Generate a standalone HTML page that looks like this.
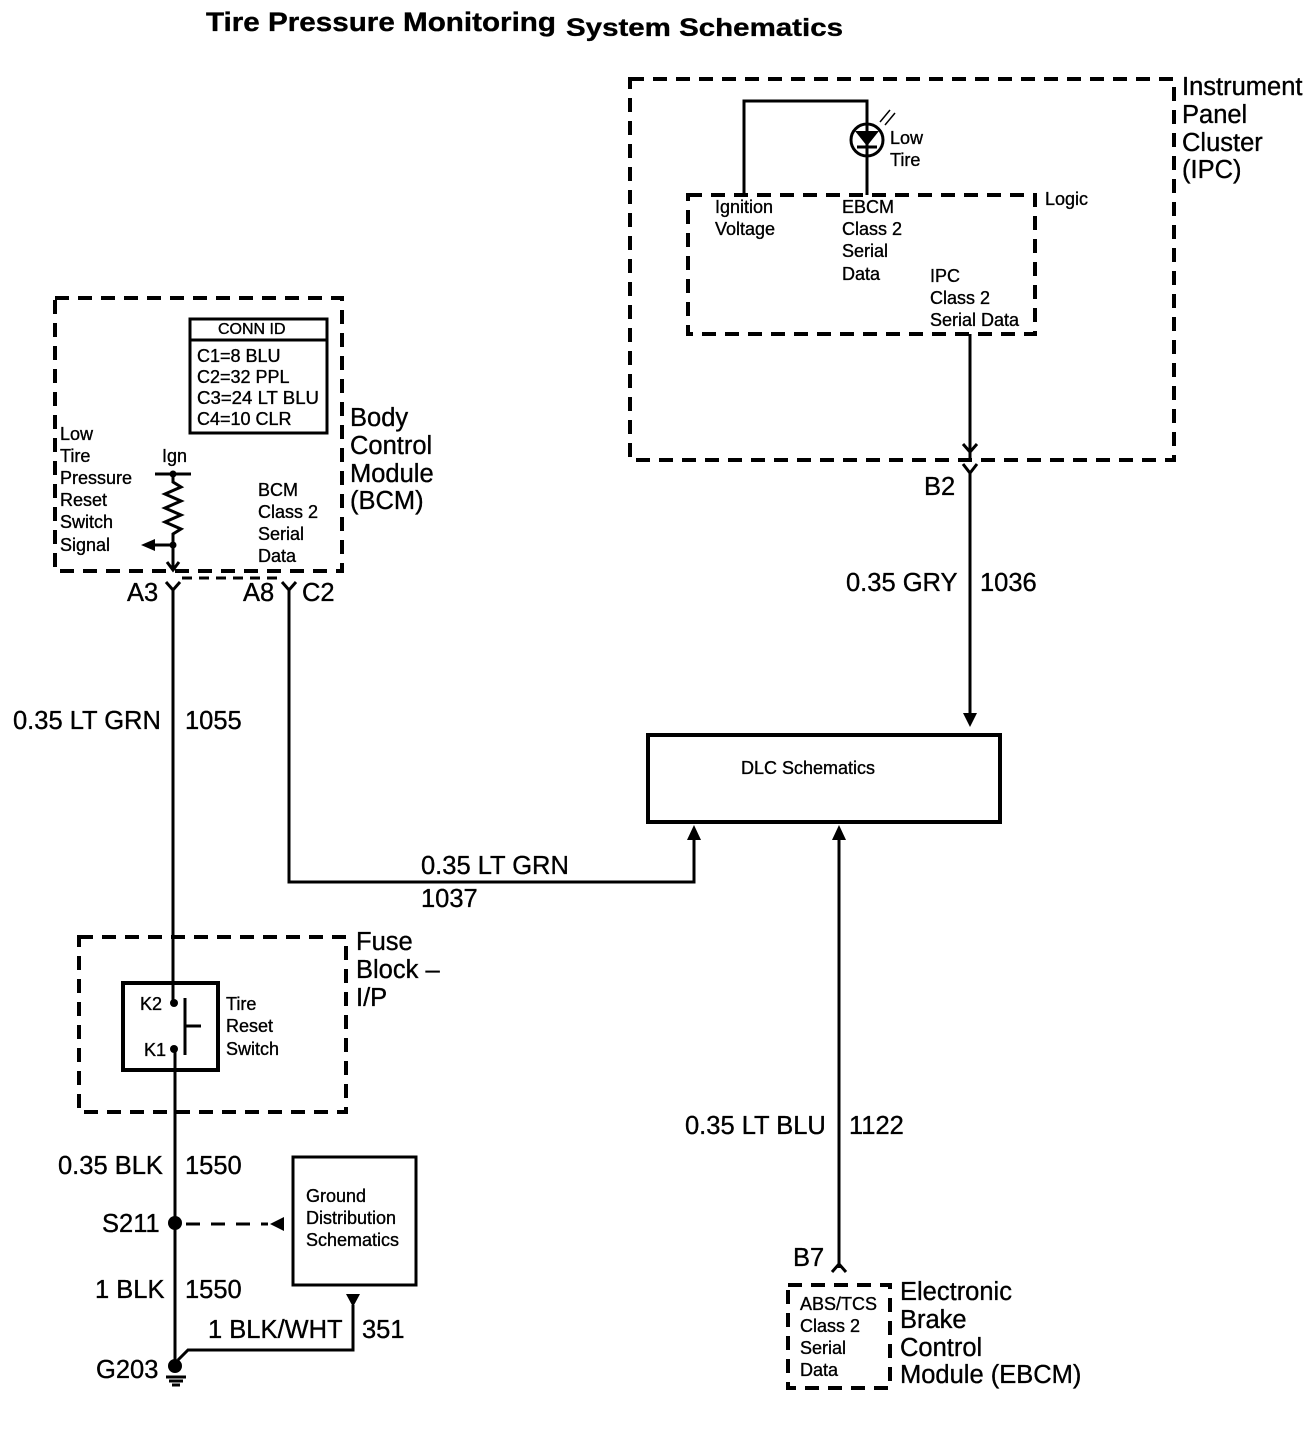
<!DOCTYPE html>
<html><head><meta charset="utf-8"><style>
html,body{margin:0;padding:0;background:#fff;}
svg{display:block;}
text{font-family:"Liberation Sans",sans-serif;fill:#000;stroke:#000;stroke-width:0.35;}
.s{font-size:18px;}
.b{font-size:25.5px;}
</style></head><body>
<svg width="1306" height="1440" viewBox="0 0 1306 1440" xmlns="http://www.w3.org/2000/svg">
<text x="206" y="31" font-size="27" font-weight="bold" textLength="350" lengthAdjust="spacingAndGlyphs">Tire Pressure Monitoring</text>
<text x="566" y="36" font-size="25" font-weight="bold" textLength="277" lengthAdjust="spacingAndGlyphs">System Schematics</text>

<g fill="none" stroke="#000" stroke-width="4" stroke-dasharray="14,9">
<rect x="630" y="79" width="544" height="381"/>
<rect x="688" y="195" width="347" height="139"/>
<rect x="55" y="298" width="287" height="273"/>
<rect x="79" y="937" width="267" height="175"/>
<rect x="788" y="1285" width="102" height="103"/>
<line x1="182" y1="578" x2="282" y2="578" stroke-width="3" stroke-dasharray="10,7"/>
<line x1="186" y1="1224" x2="268" y2="1224" stroke-width="3" stroke-dasharray="14,11"/>
</g>

<g fill="none" stroke="#000" stroke-width="3">
<polyline points="744,195 744,101 867,101 867,195"/>
<circle cx="867" cy="140" r="16"/>
<line x1="857" y1="147" x2="877" y2="147"/>
<line x1="970" y1="334" x2="970" y2="458"/>
<polyline points="963,444 970,452 977,444"/>
<polyline points="963,464 970,473 977,464"/>
<line x1="970" y1="472" x2="970" y2="715"/>
<rect x="648" y="735" width="352" height="87" stroke-width="4"/>
<polyline points="289,588 289,882 694,882 694,838"/>
<line x1="839" y1="838" x2="839" y2="1268"/>
<polyline points="832,1272 839,1264 846,1272"/>
<rect x="190" y="319" width="137" height="114"/>
<line x1="190" y1="340" x2="327" y2="340"/>
<line x1="155" y1="474" x2="191" y2="474"/>
<polyline points="173,474 173,482 181,487 165,494 181,501 165,508 181,515 165,522 181,529 173,534 173,569"/>
<line x1="173" y1="545" x2="155" y2="545"/>
<polyline points="167,562 173,570 179,562"/>
<polyline points="166,582 173,590 180,582"/>
<line x1="173" y1="590" x2="173" y2="1003"/>
<polyline points="282,582 289,590 296,582"/>
<rect x="123" y="983" width="95" height="87" stroke-width="4"/>
<line x1="185" y1="998" x2="185" y2="1055"/>
<line x1="185" y1="1026" x2="201" y2="1026"/>
<line x1="175" y1="1049" x2="175" y2="1365"/>
<rect x="293" y="1157" width="123" height="128"/>
<polyline points="353,1305 353,1350 188,1350 178,1360"/>
<line x1="166" y1="1377" x2="186" y2="1377"/>
<line x1="169" y1="1381" x2="183" y2="1381"/>
<line x1="172" y1="1385" x2="180" y2="1385"/>
</g>
<g fill="#000">
<polygon points="855,131 879,131 867,146"/>
<polygon points="963,713 977,713 970,727"/>
<polygon points="687,840 701,840 694,825"/>
<polygon points="832,840 846,840 839,825"/>
<polygon points="155,539 155,551 141,545"/>
<circle cx="173" cy="474" r="3.5"/><circle cx="173" cy="545" r="3.5"/>
<circle cx="174" cy="1003" r="4"/><circle cx="174" cy="1049" r="4"/>
<circle cx="175" cy="1223" r="7"/>
<polygon points="270,1224 284,1217 284,1231"/>
<polygon points="346,1294 360,1294 353,1307"/>
<circle cx="175" cy="1366" r="7"/>
</g>
<g stroke="#000" stroke-width="1.5"><line x1="880" y1="122" x2="890" y2="110"/><line x1="885" y1="125" x2="895" y2="113"/></g>

<text class="b" x="1182" y="95">Instrument</text>
<text class="b" x="1182" y="123">Panel</text>
<text class="b" x="1182" y="151">Cluster</text>
<text class="b" x="1182" y="178">(IPC)</text>
<text class="s" x="1045" y="205">Logic</text>
<text class="s" x="890" y="144">Low</text><text class="s" x="890" y="166">Tire</text>
<text class="s" x="715" y="213">Ignition</text><text class="s" x="715" y="235">Voltage</text>
<text class="s" x="842" y="213">EBCM</text><text class="s" x="842" y="235">Class 2</text><text class="s" x="842" y="257">Serial</text><text class="s" x="842" y="280">Data</text>
<text class="s" x="930" y="282">IPC</text><text class="s" x="930" y="304">Class 2</text><text class="s" x="930" y="326">Serial Data</text>
<text class="b" x="924" y="495">B2</text>
<text class="b" x="846" y="591">0.35 GRY</text><text class="b" x="980" y="591">1036</text>
<text class="s" x="741" y="774">DLC Schematics</text>
<text class="b" x="421" y="874">0.35 LT GRN</text><text class="b" x="421" y="907">1037</text>
<text class="b" x="685" y="1134">0.35 LT BLU</text><text class="b" x="849" y="1134">1122</text>
<text class="b" x="793" y="1266">B7</text>
<text class="s" x="800" y="1310">ABS/TCS</text><text class="s" x="800" y="1332">Class 2</text><text class="s" x="800" y="1354">Serial</text><text class="s" x="800" y="1376">Data</text>
<text class="b" x="900" y="1300">Electronic</text><text class="b" x="900" y="1328">Brake</text><text class="b" x="900" y="1356">Control</text><text class="b" x="900" y="1383">Module (EBCM)</text>

<text class="s" x="218" y="334" style="font-size:16px">CONN ID</text>
<text class="s" x="197" y="362">C1=8 BLU</text><text class="s" x="197" y="383">C2=32 PPL</text><text class="s" x="197" y="404" textLength="122" lengthAdjust="spacingAndGlyphs">C3=24 LT BLU</text><text class="s" x="197" y="425">C4=10 CLR</text>
<text class="s" x="60" y="440">Low</text><text class="s" x="60" y="462">Tire</text><text class="s" x="60" y="484">Pressure</text><text class="s" x="60" y="506">Reset</text><text class="s" x="60" y="528">Switch</text><text class="s" x="60" y="551">Signal</text>
<text class="s" x="162" y="462">Ign</text>
<text class="s" x="258" y="496">BCM</text><text class="s" x="258" y="518">Class 2</text><text class="s" x="258" y="540">Serial</text><text class="s" x="258" y="562">Data</text>
<text class="b" x="350" y="426">Body</text><text class="b" x="350" y="454">Control</text><text class="b" x="350" y="482">Module</text><text class="b" x="350" y="509">(BCM)</text>
<text class="b" x="127" y="601">A3</text><text class="b" x="243" y="601">A8</text><text class="b" x="302" y="601">C2</text>
<text class="b" x="13" y="729">0.35 LT GRN</text><text class="b" x="185" y="729">1055</text>
<text class="b" x="356" y="950">Fuse</text><text class="b" x="356" y="978">Block –</text><text class="b" x="356" y="1006">I/P</text>
<text class="s" x="140" y="1010">K2</text><text class="s" x="144" y="1056">K1</text>
<text class="s" x="226" y="1010">Tire</text><text class="s" x="226" y="1032">Reset</text><text class="s" x="226" y="1055">Switch</text>
<text class="b" x="58" y="1174">0.35 BLK</text><text class="b" x="185" y="1174">1550</text>
<text class="b" x="102" y="1232">S211</text>
<text class="s" x="306" y="1202">Ground</text><text class="s" x="306" y="1224">Distribution</text><text class="s" x="306" y="1246">Schematics</text>
<text class="b" x="95" y="1298">1 BLK</text><text class="b" x="185" y="1298">1550</text>
<text class="b" x="208" y="1338">1 BLK/WHT</text><text class="b" x="362" y="1338">351</text>
<text class="b" x="96" y="1378">G203</text>
</svg>
</body></html>
